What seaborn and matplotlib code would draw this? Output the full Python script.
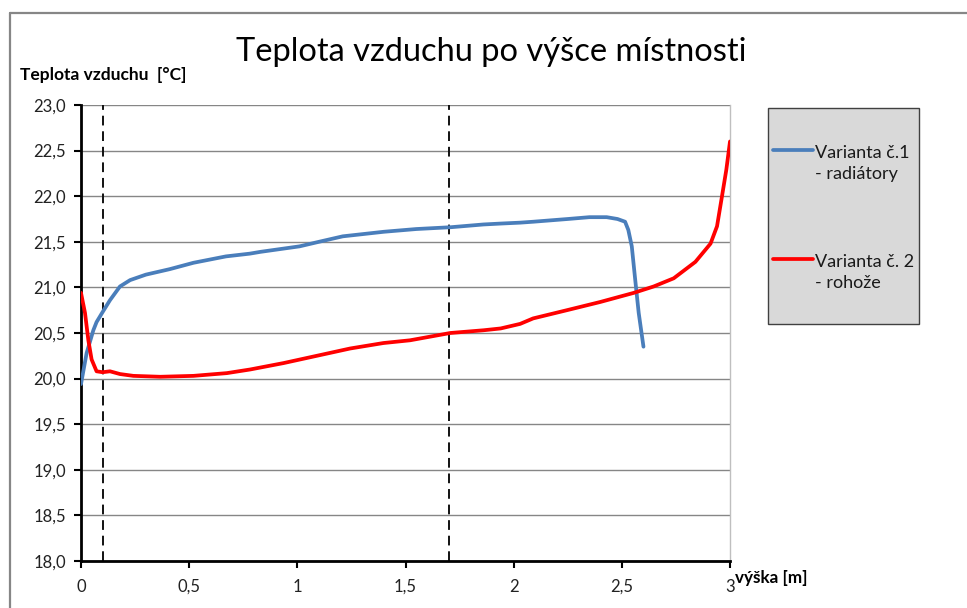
import matplotlib
matplotlib.use("Agg")
import matplotlib.pyplot as plt
from matplotlib.lines import Line2D
from matplotlib.patches import Rectangle
from matplotlib.ticker import FuncFormatter, MultipleLocator
import numpy as np
import pandas as pd
import seaborn as sns

# Measured air temperature along the room height
height_v1 = [0.0, 0.026, 0.057, 0.072, 0.10, 0.134, 0.18, 0.227, 0.30, 0.41, 0.52,
             0.67, 0.78, 0.83, 1.01, 1.10, 1.21, 1.40, 1.55, 1.71, 1.86, 1.94, 2.03,
             2.09, 2.25, 2.35, 2.43, 2.48, 2.515, 2.53, 2.546, 2.562, 2.578, 2.60]
temp_v1 = [19.94, 20.28, 20.53, 20.62, 20.73, 20.86, 21.01, 21.08, 21.14, 21.20, 21.27,
           21.34, 21.37, 21.39, 21.45, 21.50, 21.56, 21.61, 21.64, 21.66, 21.69, 21.70,
           21.71, 21.72, 21.75, 21.77, 21.77, 21.75, 21.72, 21.63, 21.45, 21.08, 20.72, 20.35]

height_v2 = [0.0, 0.0185, 0.034, 0.049, 0.072, 0.10, 0.134, 0.18, 0.242, 0.366, 0.52,
             0.674, 0.782, 0.936, 1.09, 1.244, 1.398, 1.521, 1.707, 1.861, 1.94, 2.03,
             2.09, 2.246, 2.40, 2.555, 2.647, 2.74, 2.84, 2.91, 2.94, 2.963, 2.983, 3.0]
temp_v2 = [20.94, 20.72, 20.42, 20.21, 20.08, 20.07, 20.08, 20.05, 20.03, 20.02, 20.03,
           20.06, 20.10, 20.17, 20.25, 20.33, 20.39, 20.42, 20.50, 20.53, 20.55, 20.60,
           20.66, 20.75, 20.84, 20.94, 21.01, 21.10, 21.28, 21.48, 21.67, 22.00, 22.29, 22.60]

series_names = ["Varianta č.1\n- radiátory", "Varianta č. 2\n- rohože"]
series_colors = ["#4A7EBB", "#FF0000"]
zone_marks = [0.1, 1.7]

title_text = "Teplota vzduchu po výšce místnosti"
ylabel_text = "Teplota vzduchu  [°C]"
xlabel_text = "výška [m]"

df = pd.concat([
    pd.DataFrame({"vyska": height_v1, "teplota": temp_v1, "varianta": series_names[0]}),
    pd.DataFrame({"vyska": height_v2, "teplota": temp_v2, "varianta": series_names[1]}),
], ignore_index=True)

sns.set_theme(style="white")
plt.rcParams["font.family"] = ["Lato", "DejaVu Sans"]

W, H = 967, 608
fig = plt.figure(figsize=(W / 100, H / 100), dpi=100)
ax = fig.add_axes([81 / W, 1 - 561 / H, (730 - 81) / W, (561 - 105) / H])

sns.lineplot(data=df, x="vyska", y="teplota", hue="varianta", hue_order=series_names,
             palette=series_colors, estimator=None, sort=True, linewidth=2.7,
             legend=False, ax=ax, zorder=3)
for ln in ax.get_lines():
    ln.set_solid_joinstyle("round")
    ln.set_solid_capstyle("round")

for xm in zone_marks:
    ax.axvline(xm, color="#111111", linestyle=(0, (5, 3)), linewidth=1.4, zorder=2)

ax.set_xlim(0, 3)
ax.set_ylim(18, 23)
ax.yaxis.set_major_locator(MultipleLocator(0.5))
ax.xaxis.set_major_locator(MultipleLocator(0.5))
ax.yaxis.set_major_formatter(FuncFormatter(lambda v, p: f"{v:.1f}".replace(".", ",")))
ax.xaxis.set_major_formatter(FuncFormatter(lambda v, p: f"{v:g}".replace(".", ",")))
ax.grid(axis="y", color="#868686", linewidth=1.0)
ax.grid(axis="x", visible=False)
ax.set_axisbelow(True)
ax.tick_params(axis="both", which="major", direction="out", length=5, width=1.5,
               color="black", labelsize=12, labelcolor="#222222", pad=6,
               left=True, bottom=True)
ax.tick_params(axis="x", pad=8)
for side in ["left", "bottom"]:
    ax.spines[side].set_color("black")
    ax.spines[side].set_linewidth(2.0)
ax.spines["top"].set_visible(False)
ax.spines["right"].set_color("#BFBFBF")
ax.spines["right"].set_linewidth(1.0)
ax.set_xlabel("")
ax.set_ylabel("")

# Titles and axis captions
fig.text(491 / W, 1 - 52 / H, title_text, ha="center", va="center", fontsize=23.5, color="black")
fig.text(20 / W, 1 - 75 / H, ylabel_text, ha="left", va="center", fontsize=12.5,
         fontweight="bold", color="black")
fig.text(735 / W, 1 - 578 / H, xlabel_text, ha="left", va="center", fontsize=12.3,
         fontweight="bold", color="black")

# Outer chart frame
frame_color = "#868686"
fig.add_artist(Line2D([10 / W, 10 / W], [0, 1 - 13 / H], transform=fig.transFigure,
                      color=frame_color, linewidth=1.6))
fig.add_artist(Line2D([10 / W, 1], [1 - 13 / H, 1 - 13 / H], transform=fig.transFigure,
                      color=frame_color, linewidth=1.6))

# Legend box
lx0, lx1, ly0, ly1 = 768, 919, 108, 324
fig.add_artist(Rectangle((lx0 / W, 1 - ly1 / H), (lx1 - lx0) / W, (ly1 - ly0) / H,
                         transform=fig.transFigure, facecolor="#D9D9D9",
                         edgecolor="#404040", linewidth=1.0))
for name, color, yc in zip(series_names, series_colors, [150, 259]):
    fig.add_artist(Line2D([773 / W, 813 / W], [1 - yc / H, 1 - yc / H],
                          transform=fig.transFigure, color=color, linewidth=2.7,
                          solid_capstyle="round"))
    fig.text(815 / W, 1 - (yc - 5) / H, name, ha="left", va="top", fontsize=13,
             color="#1a1a1a", linespacing=1.35)

fig.savefig("out.png", dpi=100, facecolor="white")
